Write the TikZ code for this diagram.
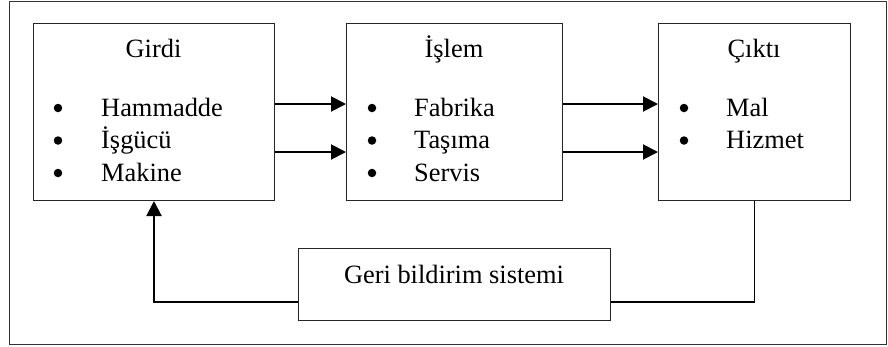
\documentclass[tikz,border=0pt]{standalone}
\usepackage{fontspec}
\setmainfont{Liberation Serif}
\usetikzlibrary{arrows.meta}
\begin{document}
\begin{tikzpicture}[x=1pt,y=-1pt,
  every node/.style={font=\fontsize{26.4}{32}\selectfont},
  boxnode/.style={draw=black!85, line width=1pt, inner sep=0pt, anchor=north west},
  txt/.style={inner sep=0pt, anchor=base west},
  bul/.style={circle, fill=black, inner sep=0pt, minimum size=8.5pt},
  ttl/.style={inner sep=0pt, anchor=base},
  arr/.style={line width=2pt, -{Triangle[length=15pt,width=15pt]}},
  thinline/.style={line width=1.2pt}]
\useasboundingbox (0,0) rectangle (888,346);
\draw[draw=black!80, line width=1pt] (9,1) rectangle (886,344);
% boxes
\node[boxnode, minimum width=241pt, minimum height=177pt] (girdi) at (33,23) {};
\node[boxnode, minimum width=216pt, minimum height=177pt] (islem) at (346,23) {};
\node[boxnode, minimum width=192pt, minimum height=177pt] (cikti) at (658,23) {};
\node[boxnode, minimum width=312pt, minimum height=72pt] (geri) at (298,248) {};
% titles
\node[ttl] (tgirdi) at (153.5,57) {Girdi};
\node[ttl] (tislem) at (454,57) {İşlem};
\node[ttl] (tcikti) at (754,57) {Çıktı};
\node[ttl] (tgeri) at (454,283) {Geri bildirim sistemi};
% Girdi items
\node[bul] (b11) at (58,108) {};
\node[bul] (b12) at (58,140.5) {};
\node[bul] (b13) at (58,173) {};
\node[txt] (i11) at (101,116) {Hammadde};
\node[txt] (i12) at (101,148.5) {İşgücü};
\node[txt] (i13) at (101,181) {Makine};
% Islem items
\node[bul] (b21) at (372,108) {};
\node[bul] (b22) at (372,140.5) {};
\node[bul] (b23) at (372,173) {};
\node[txt] (i21) at (414,116) {Fabrika};
\node[txt] (i22) at (414,148.5) {Taşıma};
\node[txt] (i23) at (414,181) {Servis};
% Cikti items
\node[bul] (b31) at (684,108) {};
\node[bul] (b32) at (684,140.5) {};
\node[txt] (i31) at (726,116) {Mal};
\node[txt] (i32) at (726,148.5) {Hizmet};
% connectors
\coordinate (r1) at (0,104);
\coordinate (r2) at (0,152);
\coordinate (fb) at (0,302);
\draw[arr] (girdi.east |- r1) -- (islem.west |- r1);
\draw[arr] (girdi.east |- r2) -- (islem.west |- r2);
\draw[arr] (islem.east |- r1) -- (cikti.west |- r1);
\draw[arr] (islem.east |- r2) -- (cikti.west |- r2);
\draw[thinline] (cikti.south) -- (cikti.south |- fb) -- (geri.east |- fb);
\draw[arr] (geri.west |- fb) -| (girdi.south);
\end{tikzpicture}
\end{document}
